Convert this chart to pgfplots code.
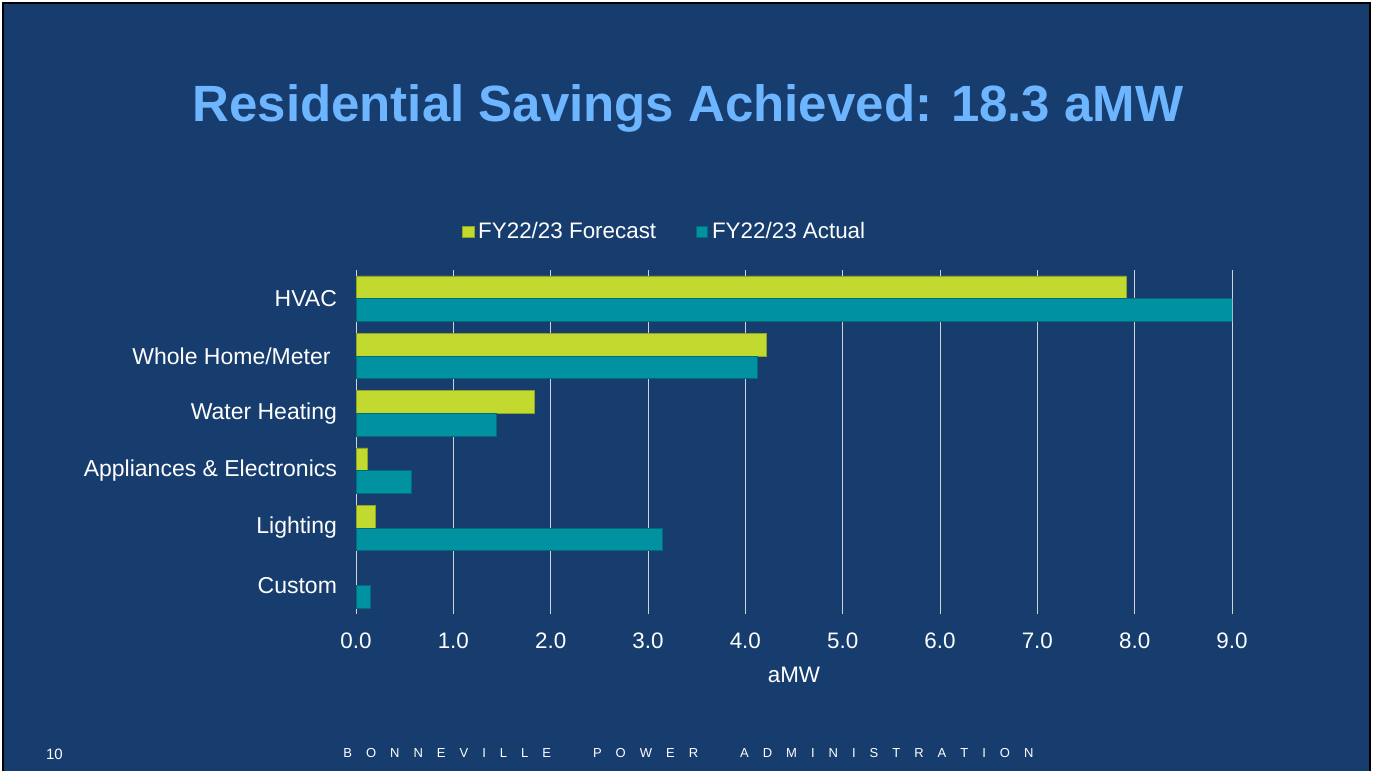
\documentclass[border=0pt]{standalone}
\usepackage{pgfplots}
\pgfplotsset{compat=1.18}
\usepackage{fontspec}
\setmainfont{Liberation Sans}
\definecolor{bg}{HTML}{173C6E}
\definecolor{titleblue}{HTML}{6DB6FF}
\definecolor{lime}{HTML}{C2D92F}
\definecolor{bpateal}{HTML}{0092A0}
\definecolor{gridc}{HTML}{D0D4DA}
\begin{document}
\begin{tikzpicture}[x=0.5pt,y=0.5pt]
\fill[white] (0,0) rectangle (1374,771);
\useasboundingbox (0,0) rectangle (1374,771);
\fill[bg] (2,0) rectangle (1371,769);
\draw[black, line width=1pt] (3,0) -- (3,768) -- (1370,768) -- (1370,0);
\node[font=\bfseries\fontsize{25.5}{30}\selectfont, text=titleblue] at (688,663) {Residential Savings Achieved: 18.3 aMW};
\node[font=\fontsize{7.5}{9}\selectfont, text=white] at (54.5,17) {10};
\node[anchor=west, font=\fontsize{6.5}{8}\selectfont, text=white, inner sep=0pt] at (343,18)
 {\makebox[345pt][s]{B\hfill O\hfill N\hfill N\hfill E\hfill V\hfill I\hfill L\hfill L\hfill E\hfill\hfill\hfill P\hfill O\hfill W\hfill E\hfill R\hfill\hfill\hfill A\hfill D\hfill M\hfill I\hfill N\hfill I\hfill S\hfill T\hfill R\hfill A\hfill T\hfill I\hfill O\hfill N}};
\begin{axis}[
  at={(178pt,78.5pt)}, anchor=south west,
  width=438pt, height=172pt, scale only axis,
  xmin=0, xmax=9, ymin=-0.5, ymax=5.5,
  xbar, bar width=11.35pt,
  xtick={0,1,...,9},
  xticklabel style={yshift=-6pt, /pgf/number format/fixed, /pgf/number format/fixed zerofill, /pgf/number format/precision=1},
  ytick={0,...,5},
  yticklabels={Custom,Lighting,Appliances \& Electronics,Water Heating,Whole Home/Meter\kern3.2pt\relax,HVAC},
  xmajorgrids, grid style={gridc, line width=0.45pt},
  axis line style={draw=none},
  major tick length=0pt,
  tick label style={font=\fontsize{11.2}{13}\selectfont, text=white},
  /pgf/number format/assume math mode=true,
  yticklabel style={xshift=-6pt, font=\fontsize{11.5}{13}\selectfont},
  xlabel={aMW},
  xlabel style={font=\fontsize{11.2}{13}\selectfont, text=white, at={(axis description cs:0.5,0)}, anchor=center, yshift=-30.5pt},
  legend columns=2,
  legend style={draw=none, fill=none, text=white, inner sep=0pt,
    font=\fontsize{11.2}{14}\selectfont,
    at={(0.121,1.11)}, anchor=west,
    /tikz/every even column/.append style={column sep=18pt}},
  legend image code/.code={\fill[#1] (0pt,-2.8pt) rectangle (5.6pt,2.8pt);},
]
\addplot[fill=lime, draw=lime!75!black, line width=0.3pt, bar shift=5.675pt] coordinates {
  (7.91,5) (4.22,4) (1.83,3) (0.12,2) (0.20,1)
};
\addlegendentry{FY22/23 Forecast}
\addplot[fill=bpateal, draw=bpateal!75!black, line width=0.3pt, bar shift=-5.675pt] coordinates {
  (9.00,5) (4.12,4) (1.44,3) (0.57,2) (3.15,1) (0.15,0)
};
\addlegendentry{FY22/23 Actual}
\end{axis}
\end{tikzpicture}
\end{document}
